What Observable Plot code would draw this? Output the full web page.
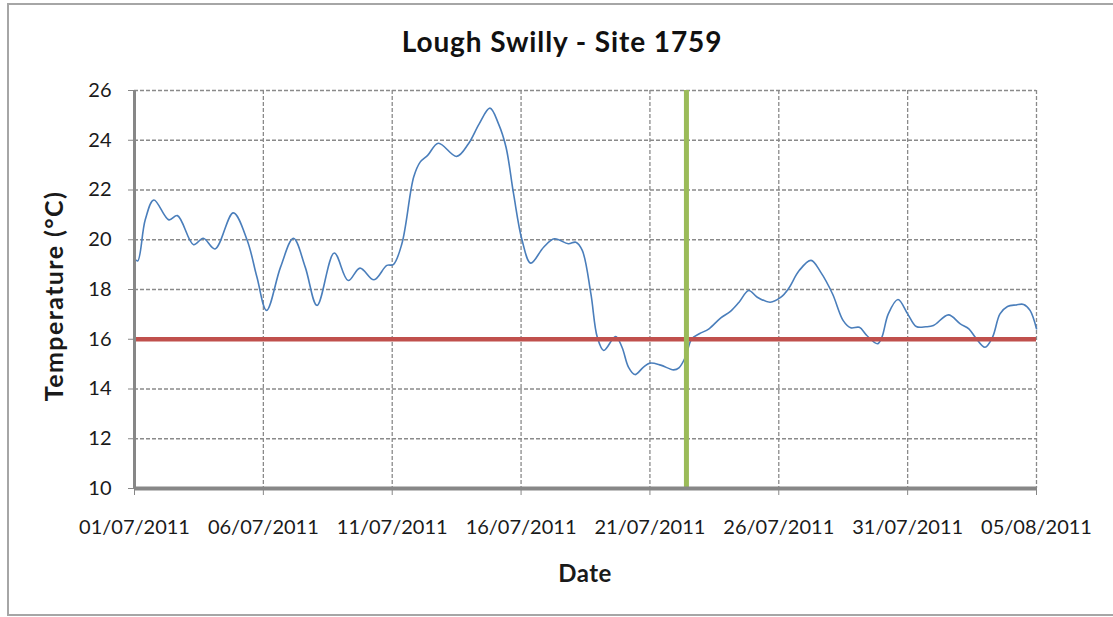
<!DOCTYPE html>
<html>
<head>
<meta charset="utf-8">
<script src="https://cdn.jsdelivr.net/npm/d3@7"></script>
<script src="https://cdn.jsdelivr.net/npm/@observablehq/plot@0.6"></script>
<style>
  html, body { margin: 0; padding: 0; background: #fff; }
  #wrap { position: relative; width: 1113px; height: 617px; overflow: hidden; font-family: Lato, "Open Sans", sans-serif; color: #1a1a1a; }
  #frame { position: absolute; left: 7px; top: 3px; width: 1130px; height: 613px; border: 2px solid #a6a6a6; box-sizing: border-box; }
  #chart { position: absolute; left: 0; top: 0; }
  .lbl { position: absolute; white-space: nowrap; font-weight: bold; line-height: 1; }
  #title { left: 562px; top: 27px; font-size: 28px; letter-spacing: 0.9px; transform: translateX(-50%); color: #111; }
  #xtitle { left: 585px; top: 561px; font-size: 24px; letter-spacing: 0.5px; transform: translateX(-50%); }
  #ytitle { left: 53px; top: 296px; font-size: 25px; letter-spacing: 1.4px; transform: translate(-50%, -50%) rotate(-90deg); }
</style>
</head>
<body>
<div id="wrap">
  <div id="frame"></div>
  <div id="chart"></div>
  <div class="lbl" id="title">Lough Swilly - Site 1759</div>
  <div class="lbl" id="ytitle">Temperature (°C)</div>
  <div class="lbl" id="xtitle">Date</div>
</div>
<script>
// Readings (UTC timestamps) and water temperature in °C
const times = [
  "2011-07-01T00:00","2011-07-01T03:00","2011-07-01T10:00","2011-07-01T18:00",
  "2011-07-02T08:00","2011-07-02T16:00","2011-07-03T07:00","2011-07-03T16:00",
  "2011-07-04T03:00","2011-07-04T20:00","2011-07-05T09:00","2011-07-05T18:00",
  "2011-07-06T03:00","2011-07-06T16:00","2011-07-07T04:00","2011-07-07T15:00",
  "2011-07-08T02:00","2011-07-08T18:00","2011-07-09T07:00","2011-07-09T18:00",
  "2011-07-10T07:00","2011-07-10T19:00","2011-07-11T01:00","2011-07-11T09:00",
  "2011-07-11T20:00","2011-07-12T02:00","2011-07-12T09:00","2011-07-12T19:00",
  "2011-07-13T12:00","2011-07-13T23:00","2011-07-14T09:00","2011-07-14T19:00",
  "2011-07-15T03:00","2011-07-15T10:00","2011-07-15T17:00","2011-07-16T01:00",
  "2011-07-16T09:00","2011-07-16T21:00","2011-07-17T07:00","2011-07-17T20:00",
  "2011-07-18T03:00","2011-07-18T09:00","2011-07-18T17:00","2011-07-18T23:00",
  "2011-07-19T05:00","2011-07-19T16:00","2011-07-19T22:00","2011-07-20T04:00",
  "2011-07-20T10:00","2011-07-20T18:00","2011-07-21T00:00","2011-07-21T10:00",
  "2011-07-21T22:00","2011-07-22T03:00","2011-07-22T09:00","2011-07-22T15:00",
  "2011-07-22T22:00","2011-07-23T07:00","2011-07-23T18:00","2011-07-24T03:00",
  "2011-07-24T11:00","2011-07-24T20:00","2011-07-25T04:00","2011-07-25T16:00",
  "2011-07-26T02:00","2011-07-26T09:00","2011-07-26T19:00","2011-07-27T06:00",
  "2011-07-27T15:00","2011-07-28T02:00","2011-07-28T12:00","2011-07-28T19:00",
  "2011-07-29T03:00","2011-07-29T10:00","2011-07-29T20:00","2011-07-30T00:00",
  "2011-07-30T06:00","2011-07-30T15:00","2011-07-31T00:00","2011-07-31T08:00",
  "2011-07-31T17:00","2011-08-01T00:00","2011-08-01T14:00","2011-08-02T01:00",
  "2011-08-02T09:00","2011-08-02T15:00","2011-08-03T00:00","2011-08-03T07:00",
  "2011-08-03T14:00","2011-08-03T21:00","2011-08-04T05:00","2011-08-04T12:00",
  "2011-08-04T18:00","2011-08-05T00:00"
];
const temps = [
  19.25,19.15,20.8,21.6,  20.8,20.97,19.8,20.06,  19.63,21.08,19.97,18.5,
  17.16,18.9,20.06,18.9,  17.36,19.47,18.36,18.86,  18.39,18.97,19.0,19.84,
  22.52,23.12,23.39,23.88,  23.35,23.86,24.66,25.29,  24.66,23.72,21.85,19.97,
  19.06,19.7,20.04,19.84,  19.9,19.57,17.83,16.08,  15.55,16.11,15.68,14.88,
  14.58,14.88,15.04,14.96,  14.77,14.85,15.28,16.02,  16.22,16.42,16.86,17.12,
  17.49,17.96,17.69,17.49,  17.69,18.03,18.76,19.17,  18.7,17.83,16.75,16.46,
  16.48,16.15,15.82,16.08,  17.02,17.6,17.02,16.51,  16.5,16.55,16.98,16.62,
  16.42,16.08,15.68,16.08,  17.02,17.32,17.38,17.4,  17.16,16.42
];
// Axis ticks
const xTickLabels = ["01/07/2011","06/07/2011","11/07/2011","16/07/2011","21/07/2011","26/07/2011","31/07/2011","05/08/2011"];
const yTicks = [10,12,14,16,18,20,22,24,26];
// Reference lines
const thresholdTemp = 16;
const markerTime = "2011-07-22T10:00";

const parseTime = s => new Date(s + "Z");
const parseLabel = d3.utcParse("%d/%m/%Y");
const data = times.map((t, i) => ({date: parseTime(t), temp: temps[i]}));
const tickDates = xTickLabels.map(parseLabel);
const xStart = tickDates[0], xEnd = tickDates[tickDates.length - 1];

const gridStyle = {stroke: "#8a8a8a", strokeOpacity: 1, strokeWidth: 1.3, strokeDasharray: "4,2"};
const axisGray = "#878787";

const chart = Plot.plot({
  width: 1113,
  height: 617,
  marginLeft: 134,
  marginRight: 77,
  marginTop: 90,
  marginBottom: 129,
  x: {type: "utc", domain: [xStart, xEnd]},
  y: {domain: [10, 26]},
  style: {fontFamily: "Lato, 'Open Sans', sans-serif", fontSize: "20px", color: "#1a1a1a", background: "transparent", overflow: "visible"},
  marks: [
    Plot.gridY(yTicks, gridStyle),
    Plot.gridX(tickDates, gridStyle),
    Plot.line(data, {x: "date", y: "temp", curve: "catmull-rom", stroke: "#4a7ebb", strokeWidth: 1.6}),
    Plot.ruleY([thresholdTemp], {stroke: "#c0504d", strokeWidth: 4.5}),
    Plot.ruleX([parseTime(markerTime)], {stroke: "#9bbb59", strokeWidth: 5}),
    Plot.ruleX([xStart], {stroke: axisGray, strokeWidth: 3}),
    Plot.ruleY([10], {stroke: axisGray, strokeWidth: 4}),
    Plot.axisY(yTicks, {tickSize: 6, tickPadding: 17, label: null, stroke: axisGray, fill: "#1a1a1a"}),
    Plot.axisX(tickDates, {tickSize: 7, tickPadding: 24, label: null, tickFormat: d3.utcFormat("%d/%m/%Y"), stroke: axisGray, fill: "#1a1a1a"})
  ]
});
document.getElementById("chart").appendChild(chart);
</script>
</body>
</html>
